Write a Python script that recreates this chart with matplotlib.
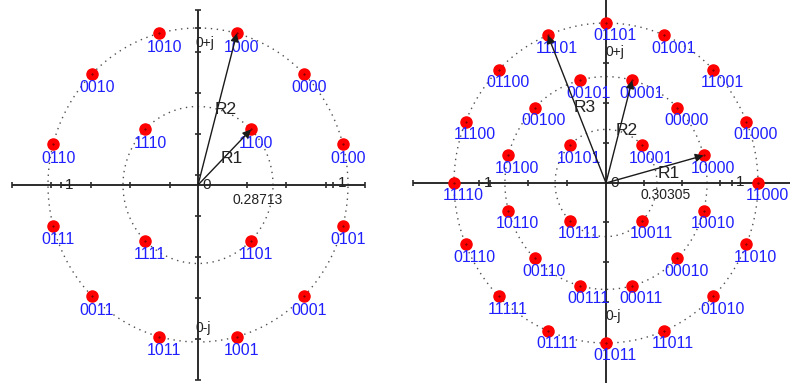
import numpy as np
import matplotlib
matplotlib.use("Agg")
import matplotlib.pyplot as plt
from matplotlib.patches import FancyArrowPatch

plt.rcParams['font.family'] = ['Liberation Sans', 'DejaVu Sans']

# ---------------- 16-APSK (4 + 12) ----------------
apsk16_inner_r = 0.5
apsk16_inner_deg = [45, 135, 225, 315]
apsk16_inner_bits = ['1100', '1110', '1111', '1101']
apsk16_outer_r = 1.0
apsk16_outer_deg = [15, 45, 75, 105, 135, 165, 195, 225, 255, 285, 315, 345]
apsk16_outer_bits = ['0100', '0000', '1000', '1010', '0010', '0110',
                     '0111', '0011', '1011', '1001', '0001', '0101']
apsk16_note = '0.28713'

# ---------------- 32-APSK (4 + 12 + 16) ----------------
apsk32_r1 = 0.335
apsk32_deg1 = [45, 135, 225, 315]
apsk32_bits1 = ['10001', '10101', '10111', '10011']
apsk32_r2 = 0.665
apsk32_deg2 = [15, 45, 75, 105, 135, 165, 195, 225, 255, 285, 315, 345]
apsk32_bits2 = ['10000', '00000', '00001', '00101', '00100', '10100',
                '10110', '00110', '00111', '00011', '00010', '10010']
apsk32_r3 = 1.0
apsk32_deg3 = [0, 22.5, 45, 67.5, 90, 112.5, 135, 157.5,
               180, 202.5, 225, 247.5, 270, 292.5, 315, 337.5]
apsk32_bits3 = ['11000', '01000', '11001', '01001', '01101', '11101', '01100', '11100',
                '11110', '01110', '11111', '01111', '01011', '11011', '01010', '11010']
apsk32_note = '0.30305'

W, H, DPI = 790, 383, 100
fig = plt.figure(figsize=(W / DPI, H / DPI), dpi=DPI)
fig.patch.set_facecolor('white')

AX_COL = '#2b2b2b'
RING_COL = '#505050'
PT_COL = '#ff0000'
BIT_COL = '#2020ff'
TXT_COL = '#222222'


def make_panel(left_px, width_px, ox, oy, sx, sy):
    ax = fig.add_axes([left_px / W, 0, width_px / W, 1])
    ax.set_xlim((left_px - ox) / sx, (left_px + width_px - ox) / sx)
    ax.set_ylim(-(H - oy) / sy, oy / sy)
    ax.axis('off')
    return ax


def ring(ax, r):
    t = np.linspace(0, 2 * np.pi, 400)
    ax.plot(r * np.cos(t), r * np.sin(t), color=RING_COL, lw=1.0,
            linestyle=(0, (1, 3.3)), zorder=1)


def axes_cross(ax, xext, yext, xticks, yticks):
    ax.plot(xext, [0, 0], color=AX_COL, lw=1.4, zorder=2, solid_capstyle='butt')
    ax.plot([0, 0], yext, color=AX_COL, lw=1.4, zorder=2, solid_capstyle='butt')
    ax.plot(list(xticks) + list(xext), [0] * (len(xticks) + 2), linestyle='none',
            marker='|', markersize=4.5, mew=1.2, color=AX_COL, zorder=2)
    ax.plot([0] * (len(yticks) + 2), list(yticks) + list(yext), linestyle='none',
            marker='_', markersize=4.5, mew=1.2, color=AX_COL, zorder=2)


def points(ax, r, degs, bits, dx, dy):
    a = np.deg2rad(degs)
    x, y = r * np.cos(a), r * np.sin(a)
    ax.plot(x, y, 'o', color=PT_COL, markersize=8, mec=PT_COL, zorder=4)
    ax.plot(x, y, '.', color='#400000', markersize=0.8, zorder=5)
    for xi, yi, b in zip(x, y, bits):
        ax.annotate(b, (xi, yi), xytext=(dx, -dy), textcoords='offset pixels',
                    ha='center', va='center', fontsize=11.5, color=BIT_COL, zorder=6)
    return x, y


def vector(ax, x, y):
    ax.add_patch(FancyArrowPatch((0, 0), (x, y), arrowstyle='-|>', mutation_scale=12,
                                 shrinkA=0, shrinkB=0, lw=1.0, color='#1a1a1a', zorder=7))


# ---- left panel: 16-APSK ----
sx, sy = 150.0, 157.0
axL = make_panel(0, 395, 198, 185, sx, sy)
ring(axL, apsk16_inner_r)
ring(axL, apsk16_outer_r)
xt = [(p - 198) / sx for p in [51, 61, 91, 130, 170, 247, 286, 326, 333]]
yt = [(185 - p) / sy for p in [28, 52, 93, 134, 175, 216, 257, 298, 339]]
axes_cross(axL, [-1.24, 1.113], [-1.242, 1.115], xt, yt)
xi, yi = points(axL, apsk16_inner_r, apsk16_inner_deg, apsk16_inner_bits, 5, 14)
xo, yo = points(axL, apsk16_outer_r, apsk16_outer_deg, apsk16_outer_bits, 5, 14)
vector(axL, xi[0], yi[0])
vector(axL, xo[2], yo[2])
axL.text((232 - 198) / sx, (185 - 158) / sy, 'R1', fontsize=12.5, color=TXT_COL,
         ha='center', va='center', zorder=8)
axL.text((226 - 198) / sx, (185 - 109) / sy, 'R2', fontsize=12.5, color=TXT_COL,
         ha='center', va='center', zorder=8)
axL.text((258 - 198) / sx, (185 - 200) / sy, apsk16_note, fontsize=10, color=TXT_COL,
         ha='center', va='center', zorder=8)
axL.text((207 - 198) / sx, 0, '0', fontsize=11, color=TXT_COL, ha='center', va='center', zorder=8)
axL.text((67 - 198) / sx, 0, '-1', fontsize=11, color=TXT_COL, ha='center', va='center', zorder=8)
axL.text((342 - 198) / sx, (185 - 183) / sy, '1', fontsize=11, color=TXT_COL,
         ha='center', va='center', zorder=8)
axL.text((196 - 198) / sx, (185 - 43) / sy, '0+j', fontsize=10, color=TXT_COL,
         ha='left', va='center', zorder=8)
axL.text((196 - 198) / sx, (185 - 328) / sy, '0-j', fontsize=10, color=TXT_COL,
         ha='left', va='center', zorder=8)

# ---- right panel: 32-APSK ----
sx, sy = 152.0, 160.0
axR = make_panel(395, 395, 606, 183, sx, sy)
for r in (apsk32_r1, apsk32_r2, apsk32_r3):
    ring(axR, r)
xt = [(p - 606) / sx for p in [452, 479, 490, 528, 567, 644, 682, 720, 732, 759]]
yt = [(183 - p) / sy for p in [23, 63, 103, 143, 222, 262, 302, 342]]
axes_cross(axR, [-1.27, 1.3], [-1.3, 1.3], xt, yt)
x1, y1 = points(axR, apsk32_r1, apsk32_deg1, apsk32_bits1, 9, 13)
x2, y2 = points(axR, apsk32_r2, apsk32_deg2, apsk32_bits2, 9, 13)
x3, y3 = points(axR, apsk32_r3, apsk32_deg3, apsk32_bits3, 9, 13)
vector(axR, x2[0], y2[0])
vector(axR, x2[2], y2[2])
vector(axR, x3[5], y3[5])
axR.text((669 - 606) / sx, (183 - 174) / sy, 'R1', fontsize=12.5, color=TXT_COL,
         ha='center', va='center', zorder=8)
axR.text((627 - 606) / sx, (183 - 131) / sy, 'R2', fontsize=12.5, color=TXT_COL,
         ha='center', va='center', zorder=8)
axR.text((585 - 606) / sx, (183 - 108) / sy, 'R3', fontsize=12.5, color=TXT_COL,
         ha='center', va='center', zorder=8)
axR.text((666 - 606) / sx, (183 - 195) / sy, apsk32_note, fontsize=10, color=TXT_COL,
         ha='center', va='center', zorder=8)
axR.text((615 - 606) / sx, 0, '0', fontsize=11, color=TXT_COL, ha='center', va='center', zorder=8)
axR.text((486 - 606) / sx, 0, '-1', fontsize=11, color=TXT_COL, ha='center', va='center', zorder=8)
axR.text((740 - 606) / sx, (183 - 182) / sy, '1', fontsize=11, color=TXT_COL,
         ha='center', va='center', zorder=8)
axR.text((605 - 606) / sx, (183 - 52) / sy, '0+j', fontsize=10, color=TXT_COL,
         ha='left', va='center', zorder=8)
axR.text((605 - 606) / sx, (183 - 316) / sy, '0-j', fontsize=10, color=TXT_COL,
         ha='left', va='center', zorder=8)

fig.savefig('out.png', dpi=DPI, facecolor='white')
